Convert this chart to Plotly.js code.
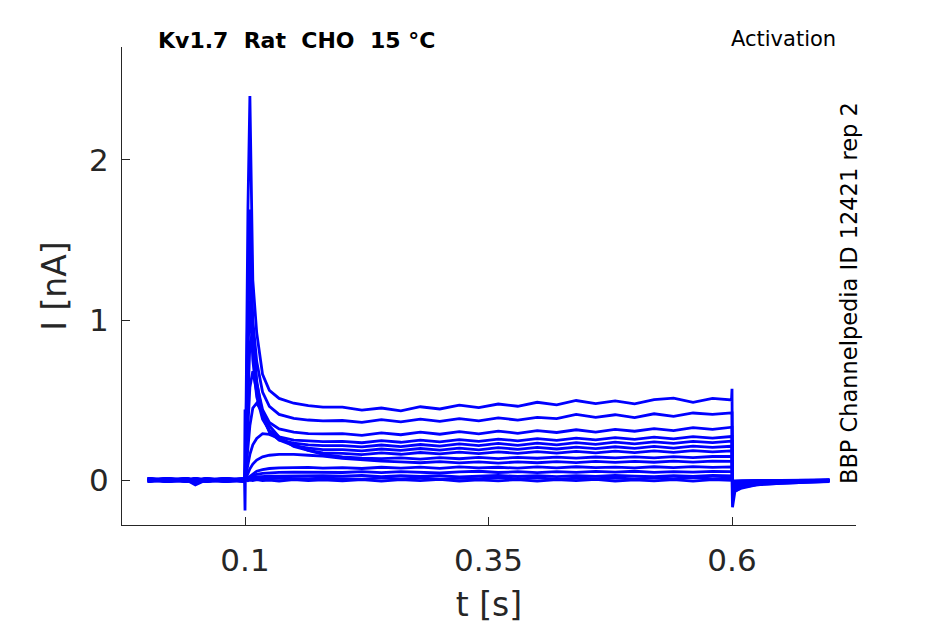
<!DOCTYPE html>
<html>
<head>
<meta charset="utf-8">
<script src="https://cdn.plot.ly/plotly-3.0.1.min.js"></script>
<style>
  html, body { margin: 0; padding: 0; background: #fff; }
  #plot { width: 945px; height: 624px; }
</style>
</head>
<body>
<div id="plot"></div>
<script>
// time base shared by all sweeps [s]
const t = [0, 0.02, 0.04, 0.049, 0.06, 0.08, 0.0995,
    0.1, 0.101, 0.103, 0.105, 0.108, 0.112, 0.118, 0.125, 0.135, 0.15, 0.165, 0.18,
    0.2, 0.22, 0.24, 0.26, 0.28, 0.3, 0.32, 0.34, 0.36, 0.38, 0.4, 0.42, 0.44, 0.46, 0.48, 0.5, 0.52, 0.54, 0.56, 0.58,
    0.5995, 0.6, 0.6005, 0.603, 0.61, 0.625, 0.65, 0.675, 0.7];

// current sweeps [nA], largest step first
const i01 = [0.01, 0.00, 0.01, -0.01, 0.00, 0.01, 0.00,
    -0.19, 0.40, 1.70, 2.40, 1.25, 0.92, 0.66, 0.56, 0.51, 0.48, 0.465, 0.455,
    0.455, 0.437, 0.450, 0.432, 0.458, 0.444, 0.468, 0.452, 0.475, 0.461, 0.486, 0.470, 0.497, 0.478, 0.494, 0.476, 0.502, 0.512, 0.486, 0.510,
    0.500, 0.57, -0.05, -0.07, -0.05, -0.03, -0.02, -0.015, -0.01];
const i02 = [-0.01, 0.01, 0.00, 0.00, -0.01, 0.00, 0.01,
    0.02, 0.30, 1.20, 1.69, 1.00, 0.74, 0.55, 0.46, 0.41, 0.385, 0.375, 0.37,
    0.372, 0.360, 0.378, 0.364, 0.381, 0.366, 0.384, 0.370, 0.388, 0.375, 0.392, 0.384, 0.410, 0.392, 0.408, 0.390, 0.414, 0.398, 0.419, 0.410,
    0.420, 0.420, -0.08, -0.06, -0.04, -0.025, -0.015, -0.01, -0.005];
const i03 = [0.00, -0.01, 0.01, 0.00, 0.01, -0.01, 0.00,
    0.01, 0.25, 1.00, 1.40, 0.85, 0.60, 0.44, 0.36, 0.32, 0.30, 0.29, 0.288,
    0.290, 0.279, 0.295, 0.283, 0.299, 0.286, 0.302, 0.289, 0.306, 0.292, 0.309, 0.297, 0.314, 0.300, 0.317, 0.305, 0.321, 0.309, 0.327, 0.316,
    0.330, 0.330, -0.06, -0.05, -0.035, -0.02, -0.01, -0.01, 0.00];
const i04 = [0.01, 0.00, -0.01, 0.01, 0.00, 0.00, -0.01,
    0.00, 0.20, 0.80, 1.12, 0.75, 0.52, 0.38, 0.31, 0.27, 0.25, 0.245, 0.24,
    0.242, 0.233, 0.246, 0.236, 0.249, 0.239, 0.252, 0.242, 0.256, 0.245, 0.259, 0.248, 0.262, 0.251, 0.265, 0.254, 0.268, 0.257, 0.271, 0.262,
    0.272, 0.272, -0.05, -0.045, -0.03, -0.02, -0.012, -0.008, -0.005];
const i05 = [0.00, 0.01, 0.00, -0.01, 0.01, 0.00, 0.01,
    0.01, 0.15, 0.55, 0.85, 0.93, 0.62, 0.40, 0.30, 0.25, 0.23, 0.22, 0.215,
    0.215, 0.207, 0.219, 0.209, 0.222, 0.212, 0.226, 0.215, 0.229, 0.217, 0.231, 0.220, 0.234, 0.223, 0.237, 0.226, 0.239, 0.229, 0.242, 0.234,
    0.243, 0.243, -0.045, -0.04, -0.03, -0.02, -0.01, -0.006, -0.004];
const i06 = [-0.01, 0.00, 0.01, 0.00, -0.01, 0.01, 0.00,
    0.00, 0.10, 0.35, 0.58, 0.68, 0.55, 0.40, 0.31, 0.25, 0.215, 0.20, 0.19,
    0.190, 0.182, 0.194, 0.185, 0.197, 0.187, 0.199, 0.189, 0.202, 0.192, 0.204, 0.194, 0.206, 0.196, 0.208, 0.198, 0.210, 0.200, 0.212, 0.204,
    0.211, 0.211, -0.04, -0.035, -0.025, -0.015, -0.01, -0.005, 0.00];
const i07 = [0.01, -0.01, 0.00, 0.01, 0.00, -0.01, 0.00,
    0.01, 0.06, 0.20, 0.34, 0.45, 0.48, 0.42, 0.34, 0.27, 0.21, 0.185, 0.17,
    0.166, 0.159, 0.170, 0.161, 0.172, 0.163, 0.174, 0.165, 0.176, 0.167, 0.178, 0.168, 0.179, 0.170, 0.181, 0.171, 0.182, 0.173, 0.184, 0.176,
    0.182, 0.182, -0.035, -0.03, -0.02, -0.012, -0.008, -0.004, 0.00];
const i08 = [0.00, 0.00, -0.01, 0.00, 0.01, 0.00, -0.01,
    0.00, 0.03, 0.10, 0.16, 0.22, 0.26, 0.29, 0.285, 0.26, 0.22, 0.185, 0.16,
    0.145, 0.136, 0.134, 0.139, 0.131, 0.140, 0.133, 0.141, 0.134, 0.142, 0.136, 0.143, 0.137, 0.144, 0.138, 0.145, 0.139, 0.146, 0.140, 0.147,
    0.147, 0.147, -0.03, -0.025, -0.018, -0.01, -0.006, -0.003, 0.00];
const i09 = [0.01, 0.00, 0.00, -0.01, 0.00, 0.01, 0.00,
    0.00, 0.01, 0.04, 0.07, 0.10, 0.125, 0.145, 0.155, 0.16, 0.16, 0.155, 0.15,
    0.135, 0.125, 0.118, 0.114, 0.108, 0.115, 0.107, 0.114, 0.106, 0.113, 0.108, 0.115, 0.109, 0.116, 0.110, 0.117, 0.111, 0.118, 0.112, 0.118,
    0.116, 0.116, -0.025, -0.02, -0.015, -0.008, -0.005, -0.002, 0.00];
const i10 = [0.00, 0.01, -0.01, 0.00, 0.00, 0.00, 0.01,
    0.00, 0.005, 0.015, 0.025, 0.04, 0.055, 0.065, 0.072, 0.076, 0.078, 0.079, 0.075,
    0.078, 0.072, 0.080, 0.074, 0.081, 0.073, 0.082, 0.076, 0.080, 0.074, 0.082, 0.076, 0.083, 0.077, 0.081, 0.076, 0.083, 0.078, 0.084, 0.079,
    0.082, 0.082, -0.02, -0.018, -0.012, -0.006, -0.004, -0.002, 0.00];
const i11 = [-0.01, 0.00, 0.01, 0.00, 0.00, 0.01, -0.01,
    0.00, 0.003, 0.01, 0.018, 0.028, 0.036, 0.042, 0.046, 0.048, 0.05, 0.049, 0.05,
    0.047, 0.052, 0.046, 0.053, 0.048, 0.044, 0.051, 0.055, 0.047, 0.052, 0.046, 0.053, 0.048, 0.054, 0.049, 0.055, 0.048, 0.053, 0.049, 0.054,
    0.052, 0.052, -0.015, -0.012, -0.008, -0.005, -0.003, -0.001, 0.00];
const i12 = [0.01, -0.01, 0.00, -0.03, 0.00, 0.00, 0.00,
    0.00, 0.002, 0.006, 0.01, 0.015, 0.019, 0.022, 0.024, 0.025, 0.026, 0.024, 0.027,
    0.024, 0.029, 0.021, 0.027, 0.022, 0.028, 0.020, 0.026, 0.029, 0.022, 0.027, 0.021, 0.028, 0.023, 0.029, 0.025, 0.021, 0.028, 0.023, 0.029,
    0.026, 0.026, -0.01, -0.01, -0.006, -0.004, -0.002, -0.001, 0.00];
const i13 = [0.00, 0.01, 0.00, 0.01, -0.01, 0.00, 0.00,
    0.00, 0.001, 0.003, 0.005, 0.007, 0.009, 0.01, 0.011, 0.01, 0.012, 0.009, 0.011,
    0.010, 0.005, 0.013, 0.007, 0.014, 0.006, 0.012, 0.008, 0.015, 0.007, 0.013, 0.005, 0.012, 0.008, 0.014, 0.007, 0.013, 0.009, 0.015, 0.008,
    0.011, 0.011, -0.005, -0.005, -0.004, -0.003, -0.002, 0.00, 0.00];
const i14 = [0.00, -0.01, 0.00, 0.01, 0.00, -0.01, 0.00,
    0.44, 0.00, -0.005, 0.00, -0.004, 0.002, -0.003, 0.00, -0.006, 0.003, -0.004, 0.001,
    -0.005, 0.003, -0.007, 0.002, -0.004, 0.004, -0.006, 0.001, -0.005, 0.003, -0.007, 0.002, -0.004, 0.004, -0.006, 0.001, -0.005, 0.003, -0.007, 0.002,
    -0.002, -0.002, -0.17, -0.07, -0.045, -0.03, -0.02, -0.012, -0.008];

const sweeps = [i01, i02, i03, i04, i05, i06, i07, i08, i09, i10, i11, i12, i13, i14];

const xTicks = [0.1, 0.35, 0.6];
const xTickText = ['0.1', '0.35', '0.6'];
const yTicks = [0, 1, 2];
const yTickText = ['0', '1', '2'];

const ink = '#262626';
const font = 'DejaVu Sans, sans-serif';

// draw the big ones last so they sit on top, like the recording
const traces = sweeps.slice().reverse().map(y => ({
    x: t,
    y: y,
    type: 'scatter',
    mode: 'lines',
    line: {color: 'rgb(0,0,255)', width: 2.8},
    hoverinfo: 'skip',
}));

const layout = {
    width: 945,
    height: 624,
    margin: {l: 122, r: 89, t: 47, b: 99},
    paper_bgcolor: 'white',
    plot_bgcolor: 'white',
    showlegend: false,
    font: {family: font, color: ink},
    title: {
        text: '<b>Kv1.7\u00a0\u00a0Rat\u00a0\u00a0CHO\u00a0\u00a015\u00a0°C</b>',
        font: {family: font, size: 22, color: '#000'},
        x: 158 / 945, xanchor: 'left',
        y: 1 - 40 / 624, yanchor: 'middle',
    },
    xaxis: {
        range: [-0.0263, 0.7273],
        tickvals: xTicks,
        ticktext: xTickText,
        ticks: 'inside',
        ticklen: 8,
        tickcolor: ink,
        showline: true,
        linecolor: ink,
        linewidth: 1,
        showgrid: false,
        zeroline: false,
        ticklabelstandoff: 8,
        tickfont: {family: font, size: 31, color: ink},
        title: {text: 't [s]', font: {family: font, size: 33, color: ink}, standoff: 15},
    },
    yaxis: {
        range: [-0.281, 2.706],
        tickvals: yTicks,
        ticktext: yTickText,
        ticks: 'inside',
        ticklen: 8,
        tickcolor: ink,
        showline: true,
        linecolor: ink,
        linewidth: 1,
        showgrid: false,
        zeroline: false,
        ticklabelstandoff: 6,
        tickfont: {family: font, size: 31, color: ink},
        title: {text: 'I [nA]', font: {family: font, size: 33, color: ink}, standoff: 12},
    },
    annotations: [
        {
            text: 'Activation',
            xref: 'paper', yref: 'paper',
            x: 1 + (838 - 856) / 734, xanchor: 'right',
            y: 1 + (47 - 39) / 478, yanchor: 'middle',
            showarrow: false,
            font: {family: font, size: 21, color: '#000'},
        },
        {
            text: 'BBP Channelpedia ID 12421 rep 2',
            xref: 'paper', yref: 'paper',
            x: 1 + (849 - 856) / 734, xanchor: 'center',
            y: (525 - 293) / 478, yanchor: 'middle',
            textangle: -90,
            showarrow: false,
            font: {family: font, size: 22.5, color: '#000'},
        },
    ],
};

Plotly.newPlot('plot', traces, layout, {displayModeBar: false, staticPlot: true});
</script>
</body>
</html>
